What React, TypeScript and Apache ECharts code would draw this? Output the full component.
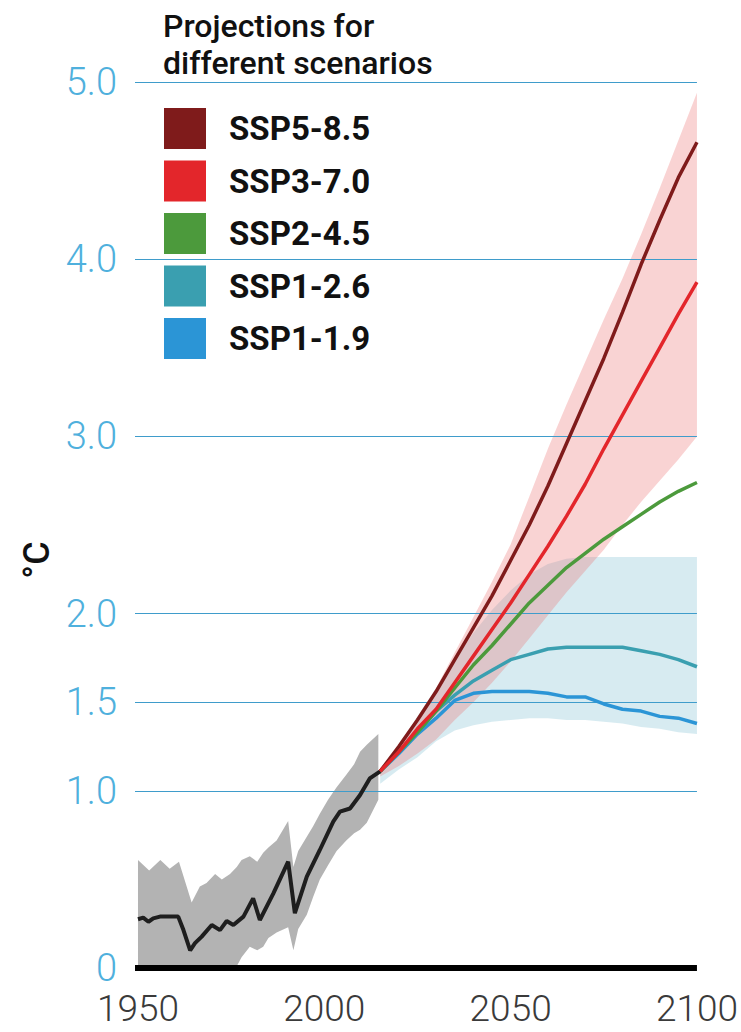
import React, { useEffect, useRef } from 'react';
import * as echarts from 'echarts';

// ---------- data ----------
const xTickLabels = [1950, 2000, 2050, 2100];
const yTickLabels = [0, 1, 1.5, 2, 3, 4, 5];

const scenarioNames = ['SSP5-8.5', 'SSP3-7.0', 'SSP2-4.5', 'SSP1-2.6', 'SSP1-1.9'];
const scenarioColors = ['#7f1b1b', '#e3262b', '#4c9a3c', '#3a9fb0', '#2b95d6'];

// observed (historical) mean
const histYears = [1950, 1951.4, 1952.8, 1954.1, 1955.9, 1960.8, 1962.2, 1964, 1965.3, 1967.1, 1969.8, 1972, 1973.8, 1975.6, 1978.3, 1980.9, 1982.7, 1986.3, 1990.3, 1992.1, 1995.3, 1998.8, 2002.4, 2004.2, 2006.9, 2009.6, 2012.2, 2015];
const histMean = [0.275, 0.284, 0.261, 0.28, 0.29, 0.29, 0.214, 0.10, 0.14, 0.177, 0.243, 0.214, 0.265, 0.243, 0.29, 0.393, 0.271, 0.42, 0.60, 0.309, 0.515, 0.666, 0.826, 0.882, 0.90, 0.976, 1.07, 1.11];

// observed uncertainty range
const histBandYears = [1950, 1953, 1956, 1958.5, 1961, 1964.4, 1966.6, 1968.4, 1970.7, 1972.5, 1974.7, 1976.5, 1977.8, 1980, 1982, 1983.6, 1985, 1987.2, 1990.3, 1991.7, 1993, 1995.3, 1997, 1998.8, 2001, 2003.3, 2005.9, 2008, 2009.6, 2011.4, 2014.5];
const histUpper = [0.61, 0.55, 0.61, 0.56, 0.60, 0.37, 0.46, 0.48, 0.53, 0.50, 0.53, 0.57, 0.61, 0.63, 0.60, 0.65, 0.68, 0.72, 0.83, 0.57, 0.66, 0.74, 0.80, 0.87, 0.95, 1.02, 1.09, 1.15, 1.22, 1.26, 1.32];
const histLower = [0, 0, 0, 0, 0, 0, 0, 0, 0, 0, 0, 0.01, 0.06, 0.12, 0.10, 0.12, 0.17, 0.20, 0.23, 0.10, 0.22, 0.30, 0.40, 0.50, 0.58, 0.66, 0.72, 0.76, 0.78, 0.82, 0.95];

// projections
const projYears = [2015, 2020, 2025, 2030, 2035, 2040, 2045, 2050, 2055, 2060, 2065, 2070, 2075, 2080, 2085, 2090, 2095, 2100];
const ssp585 = [1.11, 1.25, 1.40, 1.56, 1.74, 1.92, 2.10, 2.30, 2.50, 2.72, 2.96, 3.20, 3.44, 3.70, 3.97, 4.22, 4.46, 4.66];
const ssp370 = [1.11, 1.22, 1.35, 1.46, 1.61, 1.76, 1.91, 2.06, 2.22, 2.38, 2.55, 2.73, 2.93, 3.12, 3.31, 3.50, 3.69, 3.87];
const ssp245 = [1.11, 1.22, 1.33, 1.45, 1.58, 1.71, 1.82, 1.94, 2.06, 2.16, 2.26, 2.34, 2.42, 2.49, 2.56, 2.63, 2.69, 2.74];
const ssp126 = [1.11, 1.22, 1.33, 1.45, 1.54, 1.62, 1.68, 1.74, 1.77, 1.80, 1.81, 1.81, 1.81, 1.81, 1.79, 1.77, 1.74, 1.70];
const ssp119 = [1.11, 1.21, 1.32, 1.41, 1.51, 1.55, 1.56, 1.56, 1.56, 1.55, 1.53, 1.53, 1.49, 1.46, 1.45, 1.42, 1.41, 1.38];

const redBandUpper = [1.13, 1.24, 1.40, 1.58, 1.78, 1.98, 2.18, 2.39, 2.66, 2.93, 3.18, 3.42, 3.66, 3.89, 4.14, 4.40, 4.67, 4.94];
const redBandLower = [1.08, 1.14, 1.21, 1.29, 1.40, 1.50, 1.61, 1.73, 1.86, 1.99, 2.12, 2.24, 2.36, 2.50, 2.63, 2.75, 2.87, 3.00];
const blueBandUpper = [1.12, 1.26, 1.42, 1.58, 1.74, 1.89, 2.02, 2.13, 2.22, 2.28, 2.31, 2.32, 2.32, 2.32, 2.32, 2.32, 2.32, 2.32];
const blueBandLower = [1.04, 1.12, 1.19, 1.28, 1.34, 1.37, 1.39, 1.40, 1.41, 1.41, 1.40, 1.40, 1.39, 1.38, 1.36, 1.35, 1.33, 1.32];

const scenarioValues = [ssp585, ssp370, ssp245, ssp126, ssp119];

// ---------- helpers ----------
function bandSeries(name: string, years: number[], lower: number[], upper: number[], fill: string, z: number) {
  return {
    name,
    type: 'custom',
    z,
    silent: true,
    data: years.map((y, i) => [y, lower[i], upper[i]]),
    encode: { x: 0, y: [1, 2] },
    renderItem: (params: any, api: any) => {
      if (params.dataIndex !== 0) return null;
      const pts: number[][] = [];
      for (let i = 0; i < years.length; i++) pts.push(api.coord([years[i], upper[i]]));
      for (let i = years.length - 1; i >= 0; i--) pts.push(api.coord([years[i], lower[i]]));
      return { type: 'polygon', shape: { points: pts }, style: { fill, stroke: 'none' } };
    },
  };
}

const AXIS_FONT = 'Roboto, "Noto Sans", sans-serif';

export default function App() {
  const ref = useRef<HTMLDivElement>(null);
  useEffect(() => {
    if (!ref.current) return;
    const chart = echarts.init(ref.current, undefined, { renderer: 'svg' });

    const gridLines = yTickLabels.map((v) => [
      {
        coord: [1949.2, v],
        lineStyle: v === 0 ? { color: '#000', width: 6, type: 'solid' } : { color: '#3f9ccb', width: 1.2, type: 'solid' },
      },
      { coord: [2100, v] },
    ]);

    const drawOrder = [4, 3, 2, 0, 1];
    const lineSeries = drawOrder.map((k) => ({
      name: scenarioNames[k],
      type: 'line',
      z: 4,
      showSymbol: false,
      symbol: 'none',
      smooth: false,
      silent: true,
      itemStyle: { color: scenarioColors[k] },
      lineStyle: { color: scenarioColors[k], width: 3.5 },
      data: projYears.map((y, i) => [y, scenarioValues[k][i]]),
    }));

    chart.setOption({
      animation: false,
      backgroundColor: '#ffffff',
      title: {
        text: 'Projections for\ndifferent scenarios',
        left: 158,
        top: 2,
        textStyle: { fontFamily: AXIS_FONT, fontSize: 32, fontWeight: 500, color: '#111', lineHeight: 37 },
      },
      legend: {
        data: scenarioNames,
        orient: 'vertical',
        left: 159,
        top: 103,
        icon: 'rect',
        itemWidth: 42,
        itemHeight: 41,
        itemGap: 11.5,
        selectedMode: false,
        textStyle: { fontFamily: AXIS_FONT, fontSize: 33, fontWeight: 'bold', color: '#111', padding: [0, 0, 0, 18] },
      },
      grid: { left: 135, right: 44, top: 82, bottom: 64, containLabel: false },
      xAxis: {
        type: 'value',
        min: 1949.2,
        max: 2100,
        splitLine: { show: false },
        axisLine: { show: false },
        axisTick: { show: false },
        axisLabel: {
          customValues: xTickLabels,
          formatter: (v: number) => String(v),
          fontFamily: AXIS_FONT,
          fontWeight: 300,
          fontSize: 37,
          lineHeight: 30,
          color: '#3a3a3a',
          margin: 25,
        },
      },
      yAxis: {
        type: 'value',
        min: 0,
        max: 5,
        name: '°C',
        nameLocation: 'middle',
        nameRotate: 90,
        nameGap: 80,
        nameTextStyle: { fontFamily: AXIS_FONT, fontSize: 36, color: '#111', fontWeight: 500, padding: [0, 70, 0, 0] },
        splitLine: { show: false },
        axisLine: { show: false },
        axisTick: { show: false },
        axisLabel: {
          customValues: yTickLabels,
          formatter: (v: number) => (v === 0 ? '0' : v.toFixed(1)),
          fontFamily: AXIS_FONT,
          fontWeight: 300,
          fontSize: 38,
          lineHeight: 30,
          color: '#4fb0dd',
          margin: 18,
        },
      },
      series: [
        bandSeries('hist range', histBandYears, histLower, histUpper, '#b3b3b3', 1),
        bandSeries('low range', projYears, blueBandLower, blueBandUpper, 'rgba(160,208,222,0.42)', 1),
        bandSeries('high range', projYears, redBandLower, redBandUpper, 'rgba(235,108,108,0.3)', 1),
        {
          name: 'grid',
          type: 'line',
          data: [],
          z: 2,
          silent: true,
          markLine: {
            silent: true,
            z: 2,
            symbol: 'none',
            label: { show: false },
            data: gridLines,
          },
        },
        {
          name: 'observed',
          type: 'line',
          z: 3,
          showSymbol: false,
          symbol: 'none',
          silent: true,
          lineStyle: { color: '#1e1e1e', width: 4 },
          data: histYears.map((y, i) => [y, histMean[i]]),
        },
        ...lineSeries,
      ],
    });
    return () => chart.dispose();
  }, []);
  return <div ref={ref} style={{ position: 'absolute', left: 0, top: 0, width: 741, height: 1032 }} />;
}
